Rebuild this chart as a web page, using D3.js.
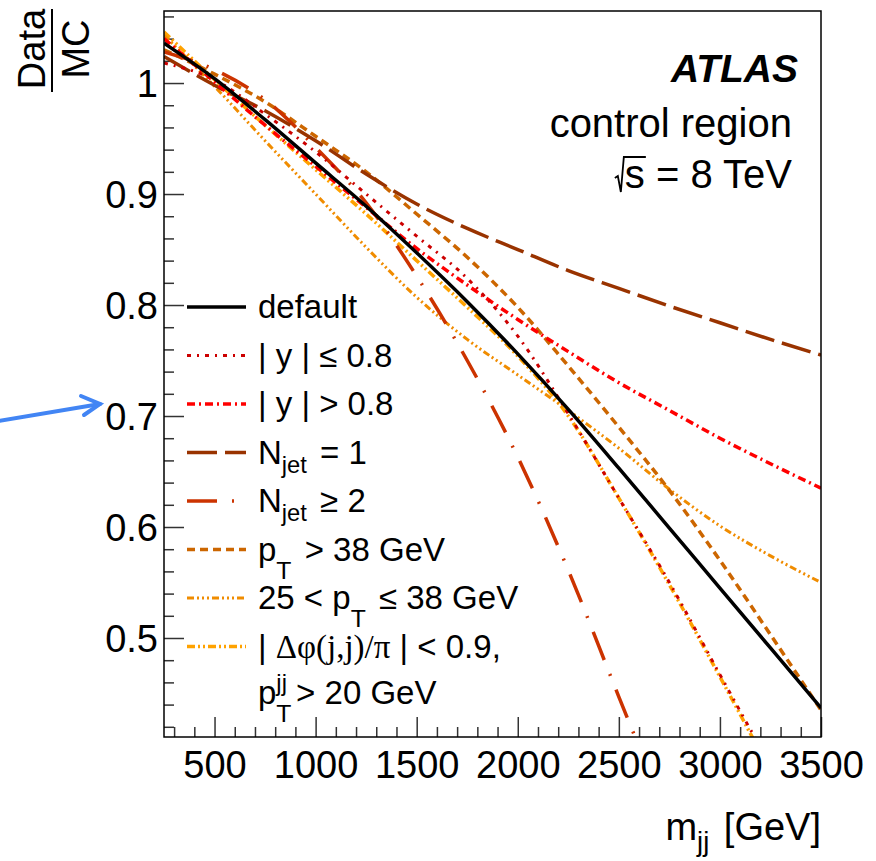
<!DOCTYPE html>
<html>
<head>
<meta charset="utf-8">
<script src="https://cdn.jsdelivr.net/npm/d3@7"></script>
<style>
  body { margin: 0; background: #fff; }
  svg text { font-family: "Liberation Sans", Arial, Helvetica, sans-serif; fill: #000; }
</style>
</head>
<body>
<div class="chart-container"></div>
<script>
// m_jj sampling points (GeV) and Data/MC ratio
const massPoints = [250, 500, 750, 1000, 1250, 1500, 1750, 2000, 2250, 2500, 2750, 3000, 3250, 3500];

const ratioDefault = [1.036, 1.004, 0.967, 0.928, 0.889, 0.847, 0.803, 0.756, 0.706, 0.653, 0.599, 0.545, 0.491, 0.437];
const ratioYLow    = [1.018, 1.003, 0.972, 0.938, 0.900, 0.862, 0.824, 0.772, 0.702, 0.626, 0.550, 0.467, 0.385];
const ratioYHigh   = [1.040, 1.001, 0.962, 0.925, 0.888, 0.851, 0.818, 0.787, 0.758, 0.730, 0.705, 0.680, 0.657, 0.635];
const ratioNjet1   = [1.024, 0.998, 0.975, 0.948, 0.918, 0.891, 0.869, 0.850, 0.831, 0.815, 0.799, 0.784, 0.769, 0.755];
const ratioNjet2   = [1.028, 1.012, 0.985, 0.942, 0.892, 0.826, 0.750, 0.663, 0.561, 0.447, 0.335];
const ratioPtHigh  = [1.030, 1.008, 0.983, 0.952, 0.920, 0.882, 0.843, 0.798, 0.745, 0.690, 0.633, 0.570, 0.503, 0.435];
const ratioPtMid   = [1.043, 0.997, 0.948, 0.900, 0.852, 0.807, 0.769, 0.737, 0.705, 0.671, 0.634, 0.601, 0.574, 0.550];
const ratioDphi    = [1.046, 1.003, 0.962, 0.922, 0.882, 0.840, 0.798, 0.754, 0.700, 0.626, 0.548, 0.465, 0.380];

const xMajorTicks = [500, 1000, 1500, 2000, 2500, 3000, 3500];
const xTickLabels = ['500', '1000', '1500', '2000', '2500', '3000', '3500'];
const yMajorTicks = [0.5, 0.6, 0.7, 0.8, 0.9, 1.0];
const yTickLabels = ['0.5', '0.6', '0.7', '0.8', '0.9', '1'];

const seriesList = [
    { key: 'default', values: ratioDefault, color: '#000000', dash: null, width: 3.5,
      label: [{ t: 'default' }] },
    { key: 'ylow', values: ratioYLow, color: '#cc0000', dash: '4,6,2,6', width: 3,
      label: [{ t: '| y | \u2264 0.8' }] },
    { key: 'yhigh', values: ratioYHigh, color: '#ff0000', dash: '8,4,2,4', width: 3.5,
      label: [{ t: '| y | > 0.8' }] },
    { key: 'njet1', values: ratioNjet1, color: '#993300', dash: '30,8', width: 3.5,
      label: [{ t: 'N' }, { t: 'jet', sub: true }, { t: ' = 1' }] },
    { key: 'njet2', values: ratioNjet2, color: '#cc3300', dash: '30,15,2,15', width: 3.5,
      label: [{ t: 'N' }, { t: 'jet', sub: true }, { t: ' \u2265 2' }] },
    { key: 'pthigh', values: ratioPtHigh, color: '#cc6600', dash: '8,5', width: 3.5,
      label: [{ t: 'p' }, { t: 'T', subLow: true }, { t: ' > 38 GeV' }] },
    { key: 'ptmid', values: ratioPtMid, color: '#f08c00', dash: '7,3,2,3,2,3,2,3', width: 3,
      label: [{ t: '25 < p' }, { t: 'T', subLow: true }, { t: ' \u2264 38 GeV' }] },
    { key: 'dphi', values: ratioDphi, color: '#ffa200', dash: '8,3,2,3,2,3', width: 3.5,
      label: [{ t: '| ' }, { t: '\u0394\u03c6(j,j)/\u03c0', serif: true }, { t: ' | < 0.9,' }] }
];

const svg_width = 876;
const svg_height = 861;
const plot = { left: 164, right: 821, top: 11, bottom: 737 };

const svg = d3.select('.chart-container')
    .append('svg')
    .attr('width', svg_width)
    .attr('height', svg_height);

const xScale = d3.scaleLinear([250, 3500], [plot.left, plot.right]);
const yScale = d3.scaleLinear([0.4108, 1.0649], [plot.bottom, plot.top]);

svg.append('clipPath')
    .attr('id', 'plot-clip')
    .append('rect')
    .attr('x', plot.left)
    .attr('y', plot.top)
    .attr('width', plot.right - plot.left)
    .attr('height', plot.bottom - plot.top);

// axes, ROOT style ticks pointing inwards
const xMinor = d3.range(300, 3500, 100).filter(v => v % 500 !== 0);
const yMinor = d3.range(42, 107, 2).map(v => v / 100).filter(v => Math.round(v * 100) % 10 !== 0);

const xAxis = d3.axisBottom(xScale)
    .tickValues(xMajorTicks)
    .tickFormat((d, i) => xTickLabels[i])
    .tickSizeInner(-20)
    .tickSizeOuter(0)
    .tickPadding(14);
const xAxisMinor = d3.axisBottom(xScale)
    .tickValues(xMinor)
    .tickFormat('')
    .tickSizeInner(-10)
    .tickSizeOuter(0);
const yAxis = d3.axisLeft(yScale)
    .tickValues(yMajorTicks)
    .tickFormat((d, i) => yTickLabels[i])
    .tickSizeInner(-20)
    .tickSizeOuter(0)
    .tickPadding(6);
const yAxisMinor = d3.axisLeft(yScale)
    .tickValues(yMinor)
    .tickFormat('')
    .tickSizeInner(-10)
    .tickSizeOuter(0);

[[xAxis, 'x'], [xAxisMinor, 'x'], [yAxis, 'y'], [yAxisMinor, 'y']].forEach(([ax, dir]) => {
    const g = svg.append('g')
        .attr('class', dir + ' axis')
        .attr('transform', dir === 'x' ? `translate(0,${plot.bottom})` : `translate(${plot.left},0)`)
        .call(ax);
    g.select('.domain').remove();
    g.selectAll('line').attr('stroke', '#333').attr('stroke-width', 1.5);
    g.selectAll('text')
        .style('font-size', '38px')
        .attr('fill', '#000');
});
svg.selectAll('.x.axis text').attr('dy', '0.71em');
svg.selectAll('.y.axis text').attr('dy', '0.36em');

// curves
const line = d3.line()
    .x((d, i) => xScale(massPoints[i]))
    .y(d => yScale(d))
    .curve(d3.curveMonotoneX);

const curves = svg.append('g').attr('clip-path', 'url(#plot-clip)');
seriesList.slice().reverse().forEach(s => {
    curves.append('path')
        .datum(s.values)
        .attr('d', line)
        .attr('fill', 'none')
        .attr('stroke', s.color)
        .attr('stroke-width', s.width)
        .attr('stroke-dasharray', s.dash);
});

// frame
svg.append('rect')
    .attr('x', plot.left)
    .attr('y', plot.top)
    .attr('width', plot.right - plot.left)
    .attr('height', plot.bottom - plot.top)
    .attr('fill', 'none')
    .attr('stroke', '#000')
    .attr('stroke-width', 1.5);

// rich text helper: pieces laid out one after another
function richText(parent, x, y, pieces, size, anchorEnd) {
    const g = parent.append('g');
    let cx = 0;
    let lastStart = 0;
    pieces.forEach(p => {
        let fs = size;
        let dy = 0;
        if (p.sub) { fs = size * 0.72; dy = size * 0.28; }
        if (p.subLow) { fs = size * 0.75; dy = size * 0.55; }
        if (p.sup) { fs = size * 0.72; dy = -size * 0.4; }
        const t = g.append('text')
            .attr('x', p.sameX ? lastStart : cx)
            .attr('y', dy)
            .style('font-size', fs + 'px')
            .style('white-space', 'pre')
            .text(p.t.replace(/ /g, '\u00a0'));
        if (p.serif) t.style('font-family', '"Liberation Serif", "DejaVu Serif", serif');
        const w = t.node().getComputedTextLength();
        if (!p.sameX) { lastStart = cx; cx += w + (p.sub || p.subLow ? 4 : 0); }
    });
    g.attr('transform', `translate(${anchorEnd ? x - cx : x},${y})`);
    return { g, width: cx };
}

// legend
const legendTop = 307;
const legendStep = 48.5;
seriesList.forEach((s, i) => {
    const ly = legendTop + i * legendStep;
    svg.append('line')
        .attr('x1', 187).attr('x2', 246)
        .attr('y1', ly).attr('y2', ly)
        .attr('stroke', s.color)
        .attr('stroke-width', s.width)
        .attr('stroke-dasharray', s.dash);
    richText(svg, 258, ly + 11, s.label, 33, false);
});
richText(svg, 258, legendTop + 8 * legendStep + 9,
    [{ t: 'p' }, { t: 'jj', sup: true }, { t: 'T', subLow: true, sameX: true }, { t: ' > 20 GeV' }], 33, false);

// ATLAS label block
svg.append('text')
    .attr('x', 798).attr('y', 82)
    .attr('text-anchor', 'end')
    .style('font-size', '39px')
    .style('font-weight', 'bold')
    .style('font-style', 'italic')
    .text('ATLAS');
svg.append('text')
    .attr('x', 792).attr('y', 137)
    .attr('text-anchor', 'end')
    .style('font-size', '40px')
    .text('control region');
const energy = svg.append('text')
    .attr('x', 792).attr('y', 188)
    .attr('text-anchor', 'end')
    .style('font-size', '40px')
    .text('s = 8 TeV');
const energyWidth = energy.node().getComputedTextLength();
const sProbe = svg.append('text').style('font-size', '40px').text('s');
const sWidth = sProbe.node().getComputedTextLength();
sProbe.remove();
const sx = 792 - energyWidth;
svg.append('path')
    .attr('d', `M${sx - 10},178 L${sx - 7},176 L${sx - 4},192 L${sx - 1},157 H${sx + sWidth + 1}`)
    .attr('fill', 'none')
    .attr('stroke', '#000')
    .attr('stroke-width', 1.8);

// axis titles
richText(svg, 821, 840, [{ t: 'm' }, { t: 'jj', sub: true }, { t: ' [GeV]' }], 38, true);

const yTitle = svg.append('g').attr('transform', 'translate(0,0) rotate(-90)');
yTitle.append('text')
    .attr('x', -49).attr('y', 45)
    .attr('text-anchor', 'middle')
    .style('font-size', '38px')
    .text('Data');
yTitle.append('text')
    .attr('x', -49).attr('y', 89)
    .attr('text-anchor', 'middle')
    .style('font-size', '38px')
    .text('MC');
svg.append('line')
    .attr('x1', 52).attr('x2', 52)
    .attr('y1', 9).attr('y2', 92)
    .attr('stroke', '#000')
    .attr('stroke-width', 2);

// blue annotation arrow
const arrow = svg.append('g')
    .attr('stroke', '#4285f4')
    .attr('stroke-width', 4)
    .attr('stroke-linecap', 'round')
    .attr('fill', 'none');
arrow.append('line').attr('x1', -2).attr('y1', 421).attr('x2', 100).attr('y2', 404);
arrow.append('path').attr('d', 'M81,396 L100,404 L84,415');
</script>
</body>
</html>
